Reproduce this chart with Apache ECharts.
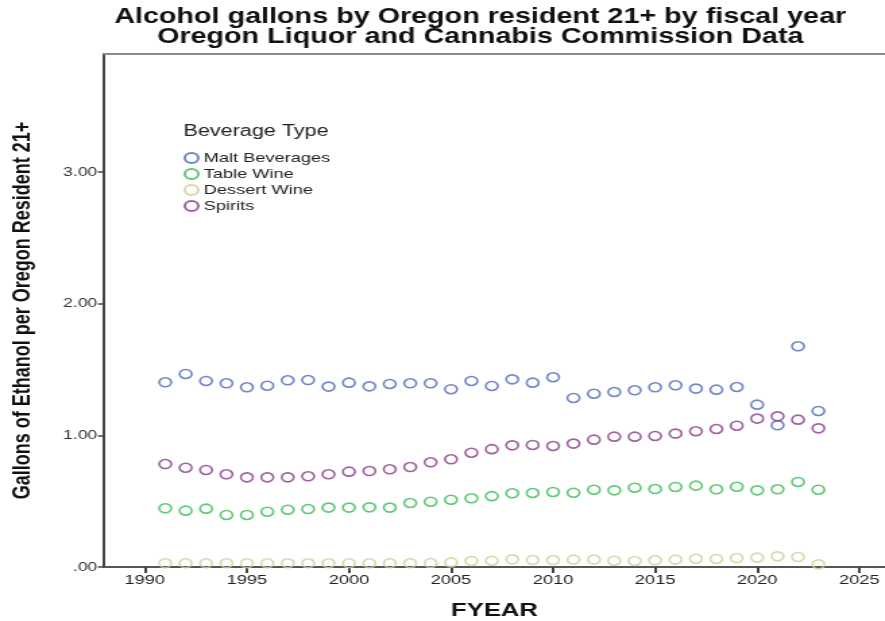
<!DOCTYPE html>
<html>
<head>
<meta charset="utf-8">
<script src="https://cdn.jsdelivr.net/npm/echarts@6/dist/echarts.min.js"></script>
<style>
html, body { margin: 0; padding: 0; overflow: hidden; background: #fff; }
#chart { width: 656px; height: 621px; transform: scaleX(1.349); transform-origin: 0 0; }
</style>
</head>
<body>
<div id="chart"></div>
<script>
const years = [1991,1992,1993,1994,1995,1996,1997,1998,1999,2000,2001,2002,2003,2004,2005,2006,2007,2008,2009,2010,2011,2012,2013,2014,2015,2016,2017,2018,2019,2020,2021,2022,2023];
const maltBeverages = [1.403,1.466,1.413,1.395,1.365,1.377,1.418,1.420,1.370,1.400,1.372,1.390,1.395,1.395,1.350,1.413,1.375,1.425,1.400,1.441,1.284,1.316,1.329,1.342,1.365,1.380,1.355,1.347,1.367,1.233,1.076,1.676,1.185];
const tableWine = [0.446,0.428,0.443,0.395,0.395,0.420,0.435,0.440,0.451,0.451,0.453,0.451,0.486,0.496,0.511,0.522,0.538,0.560,0.562,0.570,0.564,0.587,0.582,0.602,0.592,0.608,0.618,0.590,0.610,0.582,0.590,0.646,0.587];
const dessertWine = [0.028,0.028,0.028,0.028,0.028,0.028,0.028,0.028,0.028,0.028,0.028,0.028,0.028,0.030,0.035,0.046,0.048,0.058,0.053,0.053,0.056,0.056,0.048,0.046,0.051,0.056,0.063,0.061,0.068,0.071,0.081,0.076,0.020];
const spirits = [0.782,0.754,0.737,0.704,0.681,0.681,0.681,0.689,0.704,0.724,0.729,0.742,0.759,0.795,0.818,0.868,0.895,0.924,0.927,0.919,0.937,0.967,0.990,0.990,0.995,1.013,1.031,1.048,1.073,1.127,1.144,1.119,1.053];
const xTicks = [1990,1995,2000,2005,2010,2015,2020,2025];
const yTicks = [0,1,2,3];
const seriesNames = ['Malt Beverages','Table Wine','Dessert Wine','Spirits'];
const seriesColors = ['#4f68bc','#38bc52','#d3ce97','#883a89'];
const seriesValues = [maltBeverages, tableWine, dessertWine, spirits];

const chart = echarts.init(document.getElementById('chart'), null, { renderer: 'canvas' });
const FONT = 'Liberation Sans, Arial, sans-serif';

const series = seriesNames.map((name, i) => ({
  name: name,
  type: 'scatter',
  symbol: 'circle',
  symbolSize: 9,
  itemStyle: { color: 'rgba(255,255,255,0)', borderColor: seriesColors[i], borderWidth: 1.6 },
  emphasis: { disabled: true },
  data: years.map((y, j) => [y, seriesValues[i][j]])
}));

chart.setOption({
  animation: false,
  backgroundColor: '#fff',
  title: [
    {
      text: 'Alcohol gallons by Oregon resident 21+ by fiscal year\nOregon Liquor and Cannabis Commission Data',
      left: 356, top: 7, textAlign: 'center', padding: 0,
      textStyle: { fontFamily: FONT, fontWeight: 'bold', fontSize: 21.3, lineHeight: 20, color: '#111' }
    },
    {
      text: 'Beverage Type',
      left: 136, top: 124, padding: 0,
      textStyle: { fontFamily: FONT, fontWeight: 'normal', fontSize: 16, color: '#222' }
    }
  ],
  legend: {
    orient: 'vertical',
    left: 136, top: 151,
    padding: 0,
    itemWidth: 10, itemHeight: 10, itemGap: 2,
    icon: 'circle',
    textStyle: { fontFamily: FONT, fontSize: 13.5, color: '#222', lineHeight: 14, padding: [0,0,0,-1] },
    data: seriesNames
  },
  grid: { left: 77.1, right: 0, top: 54, bottom: 54, containLabel: false, outerBoundsMode: 'none' },
  xAxis: [
    {
      type: 'value', min: 1988, max: 2026.26,
      name: 'FYEAR', nameLocation: 'middle', nameGap: 34,
      nameTextStyle: { fontFamily: FONT, fontWeight: 'bold', fontSize: 19, color: '#111' },
      axisLine: { show: true, onZero: false, lineStyle: { color: '#555', width: 2 } },
      axisTick: { show: true, length: 6, customValues: xTicks, lineStyle: { color: '#444', width: 2 } },
      axisLabel: { customValues: xTicks, fontFamily: FONT, fontSize: 13.5, color: '#222', margin: 6, formatter: v => String(v) },
      splitLine: { show: false }
    },
    {
      type: 'value', position: 'top', min: 1988, max: 2026.26,
      axisLine: { show: true, onZero: false, lineStyle: { color: '#8a8a8a', width: 2 } },
      axisTick: { show: false }, axisLabel: { show: false }, splitLine: { show: false }
    }
  ],
  yAxis: {
    type: 'value', min: 0, max: 3.896,
    name: 'Gallons of Ethanol per Oregon Resident 21+',
    nameLocation: 'middle', nameGap: 51,
    nameTextStyle: { fontFamily: FONT, fontWeight: 'bold', fontSize: 18, color: '#111' },
    axisLine: { show: true, onZero: false, lineStyle: { color: '#444', width: 2 } },
    axisTick: { show: true, length: 4.5, customValues: yTicks, lineStyle: { color: '#444', width: 1.5 } },
    axisLabel: {
      customValues: yTicks, fontFamily: FONT, fontSize: 13, color: '#333', margin: 5,
      formatter: v => v === 0 ? '.00' : v.toFixed(2)
    },
    splitLine: { show: false }
  },
  series: series
});
</script>
</body>
</html>
